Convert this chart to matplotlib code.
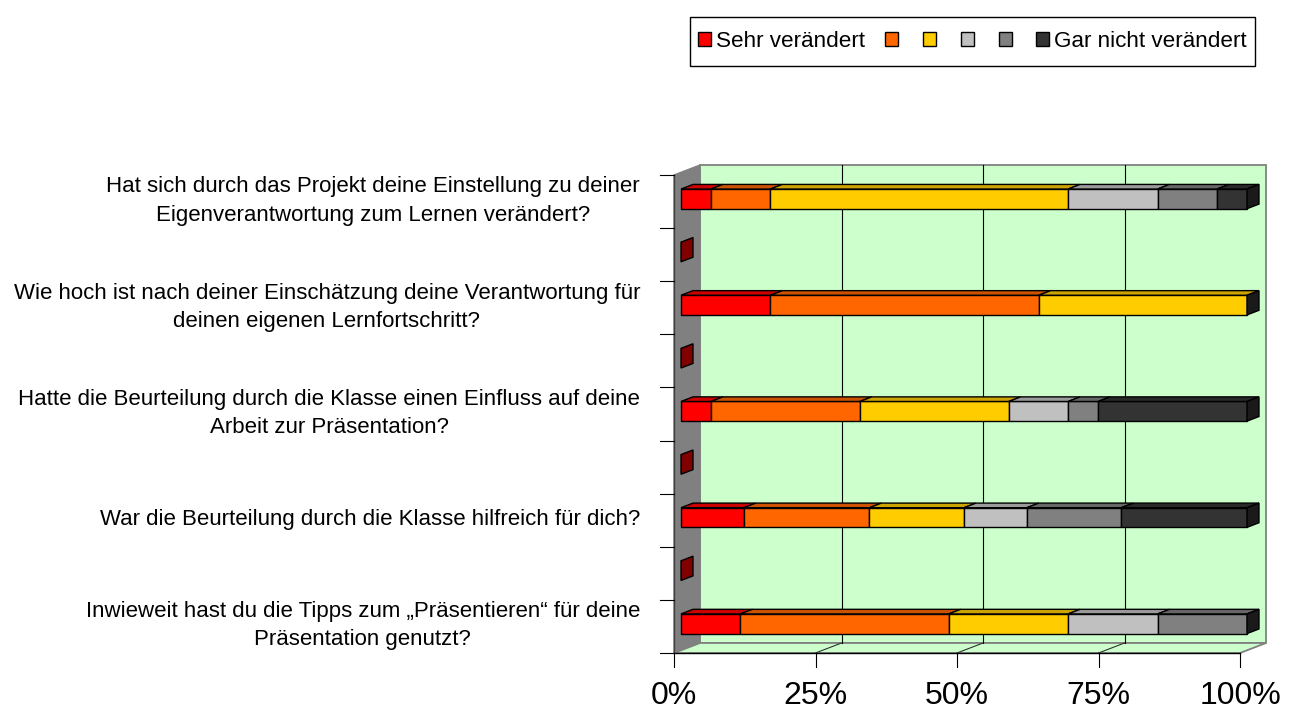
import matplotlib
matplotlib.use("Agg")
import numpy as np
import matplotlib.pyplot as plt
from matplotlib.colors import to_rgb
from matplotlib.patches import Polygon, Patch, Rectangle

plt.rcParams['font.family'] = ['Liberation Sans', 'DejaVu Sans']

# questions from top to bottom
questions = [
    "Hat sich durch das Projekt deine Einstellung zu deiner\nEigenverantwortung zum Lernen verändert?",
    "Wie hoch ist nach deiner Einschätzung deine Verantwortung für\ndeinen eigenen Lernfortschritt?",
    "Hatte die Beurteilung durch die Klasse einen Einfluss auf deine\nArbeit zur Präsentation?",
    "War die Beurteilung durch die Klasse hilfreich für dich?",
    "Inwieweit hast du die Tipps zum „Präsentieren“ für deine\nPräsentation genutzt?",
]

# shares in percent, one list per answer level (same order as questions)
sehr = [5.3, 15.8, 5.3, 11.1, 10.5]
stufe2 = [10.5, 47.4, 26.3, 22.2, 36.8]
stufe3 = [52.6, 36.8, 26.3, 16.7, 21.1]
stufe4 = [15.8, 0.0, 10.5, 11.1, 15.8]
stufe5 = [10.5, 0.0, 5.3, 16.7, 15.8]
gar_nicht = [5.3, 0.0, 26.3, 22.2, 0.0]

series = [sehr, stufe2, stufe3, stufe4, stufe5, gar_nicht]
series_labels = ["Sehr verändert", "", "", "", "", "Gar nicht verändert"]
series_colors = ["#FF0000", "#FF6600", "#FFCC00", "#C0C0C0", "#808080", "#333333"]
x_ticks = [0, 25, 50, 75, 100]

wall_green = "#CCFFCC"
wall_gray = "#808080"


def shade(color, k):
    r, g, b = to_rgb(color)
    return (r * k, g * k, b * k)


fig = plt.figure(figsize=(12.95, 7.09), dpi=100)
ax = fig.add_axes([674 / 1295, 56 / 709, 566 / 1295, 478 / 709])
n_slots = 2 * len(questions) - 1
ax.set_xlim(0, 100)
ax.set_ylim(0, n_slots)
ax.axis('off')

# pseudo 3d depth (x in percent, y in category slots)
DX = 26 / 5.66
DY = 10 / 53.1
f0, f1 = 0.27, 0.73   # bar sits between these depth fractions
bar_h = 0.37


def poly(pts, fc, ec='black', lw=1.0, z=3):
    ax.add_patch(Polygon(pts, closed=True, facecolor=fc, edgecolor=ec, lw=lw,
                         zorder=z, clip_on=False, joinstyle='miter'))


# walls and floor
poly([(DX, DY), (100 + DX, DY), (100 + DX, n_slots + DY), (DX, n_slots + DY)],
     wall_green, ec=wall_gray, lw=1.3, z=0)
poly([(0, 0), (0, n_slots), (DX, n_slots + DY), (DX, DY)], wall_gray, ec=wall_gray, lw=1.0, z=0.5)
poly([(0, 0), (100, 0), (100 + DX, DY), (DX, DY)], wall_green, ec=wall_gray, lw=1.3, z=0.5)

# gridlines on back wall and floor
for v in x_ticks[1:-1]:
    ax.plot([v + DX, v + DX], [DY, n_slots + DY], color='black', lw=0.8, zorder=1, clip_on=False)
    ax.plot([v, v + DX], [0, DY], color='#333333', lw=0.8, zorder=1, clip_on=False)

# axes lines and ticks
ax.plot([0, 100], [0, 0], color='black', lw=1.0, zorder=2, clip_on=False)
ax.plot([0, 0], [0, n_slots], color='#404040', lw=1.0, zorder=2, clip_on=False)
tick_dy = 14 / 53.1
tick_dx = 14 / 5.66
for v in x_ticks:
    ax.plot([v, v], [0, -tick_dy], color='black', lw=0.8, zorder=2, clip_on=False)
    ax.text(v, -0.53, f"{v}%", ha='center', va='top', fontsize=23)
for s in range(n_slots + 1):
    ax.plot([-tick_dx, 0], [s, s], color='black', lw=0.8, zorder=2, clip_on=False)

# bars
for i, q in enumerate(questions):
    slot = n_slots - 1 - 2 * i
    yc = slot + 0.5
    y0 = yc + f0 * DY
    y1 = yc + f1 * DY
    left = 0.0
    for j, vals in enumerate(series):
        v = vals[i]
        if v > 0:
            c = series_colors[j]
            a, b = left + f0 * DX, left + v + f0 * DX
            poly([(a, y0 - bar_h / 2), (b, y0 - bar_h / 2), (b, y0 + bar_h / 2), (a, y0 + bar_h / 2)], c)
            poly([(a, y0 + bar_h / 2), (b, y0 + bar_h / 2),
                  (left + v + f1 * DX, y1 + bar_h / 2), (left + f1 * DX, y1 + bar_h / 2)], shade(c, 0.8))
        left += v
    # end face of the last series
    e0, e1 = left + f0 * DX, left + f1 * DX
    poly([(e0, y0 - bar_h / 2), (e1, y1 - bar_h / 2), (e1, y1 + bar_h / 2), (e0, y0 + bar_h / 2)],
         shade(series_colors[-1], 0.5))
    ax.text(-6.0, yc + f0 * DY - 0.04, q, ha='right', va='center', multialignment='center',
            fontsize=16, linespacing=1.45)

# empty spacer categories: zero length bars only show their end face
for i in range(len(questions) - 1):
    slot = n_slots - 2 - 2 * i
    yc = slot + 0.5
    y0 = yc + f0 * DY
    y1 = yc + f1 * DY
    e0, e1 = f0 * DX, f1 * DX
    poly([(e0, y0 - bar_h / 2), (e1, y1 - bar_h / 2), (e1, y1 + bar_h / 2), (e0, y0 + bar_h / 2)],
         shade(series_colors[0], 0.5))

# legend
handles = [Patch(facecolor=c, edgecolor='black', lw=1.0) for c in series_colors]
leg = fig.legend(handles, series_labels, ncol=6, loc='center', bbox_to_anchor=(972.5 / 1295, 1 - 41.5 / 709),
                 frameon=False, fontsize=16.2, handlelength=0.58, handleheight=0.58,
                 handletextpad=0.2, columnspacing=0.9, borderpad=0.0)
fig.canvas.draw()
bb = leg.get_window_extent().transformed(fig.transFigure.inverted())
pad_x, pad_y = 8 / 1295, 14 / 709
fig.add_artist(Rectangle((bb.x0 - pad_x, bb.y0 - pad_y), bb.width + 2 * pad_x, bb.height + 2 * pad_y,
                         transform=fig.transFigure, fill=False, edgecolor='black', lw=1.0))

fig.savefig("out.png", dpi=100)
